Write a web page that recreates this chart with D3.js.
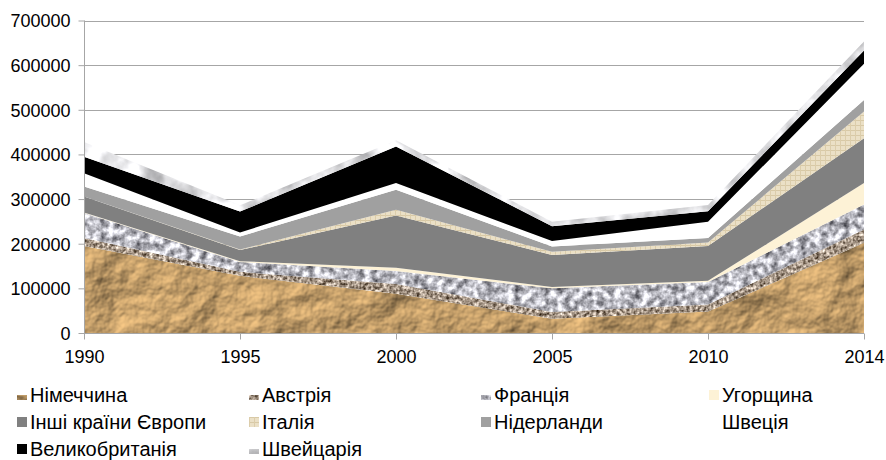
<!DOCTYPE html>
<html><head><meta charset="utf-8">
<script src="https://cdn.jsdelivr.net/npm/d3@7"></script>
<style>
html,body{margin:0;padding:0;background:#fff;}
svg text{font-family:"Liberation Sans",Arial,sans-serif;font-size:18px;fill:#000;}
</style></head>
<body>
<svg id="chart" width="886" height="460"></svg>
<script>
// ---- data ----
const years = ["1990","1995","2000","2005","2010","2014"];
const countries = ["Німеччина","Австрія","Франція","Угорщина","Інші країни Європи","Італія","Нідерланди","Швеція","Великобританія","Швейцарія"];
const germany     = [195000, 128000,  88000, 32000, 48000, 202000];
const austria     = [ 18000,   9000,  22000, 15000, 16000,  30000];
const france      = [ 56000,  22000,  29000, 53000, 50000,  56000];
const hungary     = [  1000,   2000,   7000,  3000,  3000,  48000];
const otherEurope = [ 36000,  25000, 117000, 72000, 78000, 100000];
const italy       = [     0,   1000,  13000,  7000,  8000,  60000];
const netherlands = [ 22000,  29000,  45000, 12000, 10000,  26000];
const sweden      = [ 30000,   9000,  15000, 12000, 36000,  81000];
const uk          = [ 37000,  47000,  82000, 33000, 24000,  30000];
const switzerland = [ 33000,  14000,  14000, 10000, 14000,  20000];
const yTicks = [0,100000,200000,300000,400000,500000,600000,700000];

const seriesValues = [germany, austria, france, hungary, otherEurope, italy, netherlands, sweden, uk, switzerland];
const table = years.map((y,i)=>{const o={year:y}; countries.forEach((c,k)=>o[c]=seriesValues[k][i]); return o;});

const svg = d3.select("#chart");
const defs = svg.append("defs");
const W=886,H=460;

function noiseFilter(id, freq, oct, seed, matrix){
  const f = defs.append("filter").attr("id",id).attr("filterUnits","userSpaceOnUse")
    .attr("x",0).attr("y",0).attr("width",W).attr("height",H)
    .attr("color-interpolation-filters","sRGB");
  f.append("feTurbulence").attr("type","fractalNoise").attr("baseFrequency",freq)
    .attr("numOctaves",oct).attr("seed",seed).attr("result","n");
  f.append("feColorMatrix").attr("in","n").attr("type","matrix").attr("values",matrix).attr("result","c");
  f.append("feComposite").attr("in","c").attr("in2","SourceGraphic").attr("operator","in");
}
// crumpled paper (Germany)
(function(){
  const f = defs.append("filter").attr("id","fPaper").attr("filterUnits","userSpaceOnUse")
    .attr("x",0).attr("y",0).attr("width",W).attr("height",H)
    .attr("color-interpolation-filters","sRGB");
  f.append("feTurbulence").attr("type","fractalNoise").attr("baseFrequency","0.02")
    .attr("numOctaves",5).attr("seed",7).attr("result","n");
  const l = f.append("feDiffuseLighting").attr("in","n").attr("surfaceScale",6)
    .attr("lighting-color","#fccc88").attr("result","l");
  l.append("feDistantLight").attr("azimuth",235).attr("elevation",50);
  f.append("feComposite").attr("in","l").attr("in2","SourceGraphic").attr("operator","in");
})();
noiseFilter("fAustria","0.3",2,4,"1.3 0 0 0 0.0  1.3 0 0 0 -0.06  1.3 0 0 0 -0.12  0 0 0 0 1");
noiseFilter("fFrance","0.14",3,2,"1.3 0 0 0 0.08  1.3 0 0 0 0.08  1.3 0 0 0 0.11  0 0 0 0 1");
noiseFilter("fSwiss","0.035",4,9,"0.7 0 0 0 0.55  0.7 0 0 0 0.55  0.7 0 0 0 0.56  0 0 0 0 1");

// Italy: woven beige pattern
const pat = defs.append("pattern").attr("id","pItaly").attr("patternUnits","userSpaceOnUse")
  .attr("width",5).attr("height",5);
pat.append("rect").attr("width",5).attr("height",5).attr("fill","#ebe0c6");
pat.append("rect").attr("width",5).attr("height",1).attr("fill","#d8c9a6");
pat.append("rect").attr("width",1).attr("height",5).attr("fill","#dccdab");

const fills = {
  "Німеччина":{fill:"#c49a62",filter:"url(#fPaper)"},
  "Австрія":{fill:"#a89a8a",filter:"url(#fAustria)"},
  "Франція":{fill:"#b0b0b0",filter:"url(#fFrance)"},
  "Угорщина":{fill:"#fdf2d6"},
  "Інші країни Європи":{fill:"#808080"},
  "Італія":{fill:"url(#pItaly)"},
  "Нідерланди":{fill:"#a0a0a0"},
  "Швеція":{fill:"#ffffff"},
  "Великобританія":{fill:"#000000"},
  "Швейцарія":{fill:"#e4e4e4",filter:"url(#fSwiss)"}
};

const x = d3.scalePoint().domain(years).range([84,864]);
const y = d3.scaleLinear().domain([0,700000]).range([333,20.5]);

// grid
svg.append("g").selectAll("line").data(yTicks.filter(d=>d>0)).join("line")
  .attr("x1",84).attr("x2",864).attr("y1",d=>Math.round(y(d))+0.5).attr("y2",d=>Math.round(y(d))+0.5)
  .attr("stroke","#a6a6a6").attr("stroke-width",1);

// areas
const stack = d3.stack().keys(countries);
const layers = stack(table);
const area = d3.area().x(d=>x(d.data.year)).y0(d=>y(d[0])).y1(d=>y(d[1]));
svg.append("g").selectAll("path").data(layers).join("path")
  .attr("d",area)
  .attr("fill",d=>fills[d.key].fill)
  .attr("filter",d=>fills[d.key].filter||null);

// axes
const yAxis = d3.axisLeft(y).tickValues(yTicks).tickSize(6).tickPadding(8).tickFormat(d=>String(d));
const gy = svg.append("g").attr("transform","translate(84.5,0)").call(yAxis);
gy.select(".domain").attr("stroke","#a6a6a6").attr("d","M0,"+y(700000)+"V"+y(0));
gy.selectAll(".tick line").attr("stroke","#a6a6a6");
gy.selectAll(".tick text").attr("dy","0.36em").style("font-size","18px").style("font-family","Liberation Sans, Arial, sans-serif");

const xAxis = d3.axisBottom(x).tickSize(6).tickPadding(11);
const gx = svg.append("g").attr("transform","translate(0,"+(Math.round(y(0))+0.5)+")").call(xAxis);
gx.select(".domain").attr("stroke","#a6a6a6").attr("d","M84,0H864");
gx.selectAll(".tick line").attr("stroke","#a6a6a6");
gx.selectAll(".tick text").style("font-size","18px").style("font-family","Liberation Sans, Arial, sans-serif");

// legend
const colX = [17,249,481,709];
const rowY = [395,422,449];
const lg = svg.append("g").selectAll("g").data(countries).join("g")
  .attr("transform",(d,i)=>`translate(${colX[i%4]},${rowY[Math.floor(i/4)]})`);
lg.append("rect").attr("x",0).attr("y",-5).attr("width",10).attr("height",10)
  .attr("fill",d=>fills[d].fill).attr("filter",d=>fills[d].filter||null);
lg.append("text").attr("x",13).attr("y",0).attr("dy","0.35em").style("font-size","20px").text(d=>d);
</script>
</body></html>
